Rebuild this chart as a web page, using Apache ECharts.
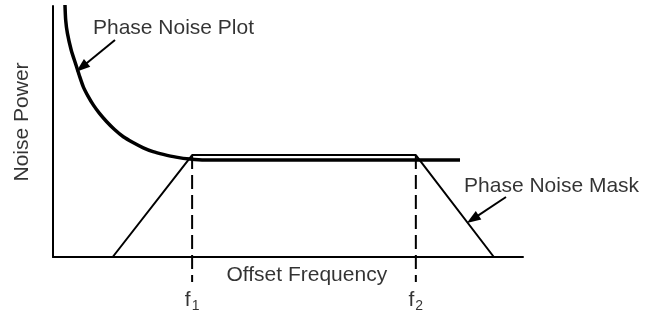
<!DOCTYPE html>
<html>
<head>
<meta charset="utf-8">
<script src="https://cdn.jsdelivr.net/npm/echarts@6/dist/echarts.min.js"></script>
<style>
html,body{margin:0;padding:0;background:#fff;}
#chart{width:656px;height:320px;}
</style>
</head>
<body>
<div id="chart"></div>
<script>
// ---- data (arbitrary units: offset frequency 0..100, noise power 0..100) ----
const plotFreq  = [2.55, 2.70, 3.06, 3.87, 4.89, 5.57, 6.45, 7.45, 8.57, 9.89, 11.43, 13.09, 14.96, 17.02, 19.21, 21.28, 23.47, 26.17, 29.15, 32.34, 86.6];
const plotPower = [100.4, 94.4, 89.2, 82.5, 76.5, 72.5, 67.8, 64.1, 60.6, 57.2, 53.9, 50.8, 47.9, 45.6, 43.5, 42.0, 40.9, 39.8, 39.0, 38.6, 38.6];
const maskFreq  = [12.7, 29.6, 77.2, 93.8];
const maskPower = [0, 40.6, 40.6, 0];
const markerFreq = [29.6, 77.2];
const markerLabels = ['1', '2'];
const axisTitles = ['Offset Frequency', 'Noise Power'];
const seriesTitles = ['Phase Noise Plot', 'Phase Noise Mask'];

const FONT = "'Liberation Sans', Arial, Helvetica, sans-serif";
const zip = (a, b) => a.map((v, i) => [v, b[i]]);

const chart = echarts.init(document.getElementById('chart'), null, {renderer: 'canvas'});

const textBase = {show: true, color: '#000', fontFamily: FONT, fontSize: 21};

function textPoint(x, y, text, extra) {
  return {value: [x, y], label: Object.assign({}, textBase, {formatter: text}, extra)};
}

const arrowStyle = {color: '#000', width: 2, type: 'solid'};

chart.setOption({
  animation: false,
  backgroundColor: '#fff',
  grid: {left: 53, right: 133, top: 6, bottom: 63, containLabel: false},
  xAxis: {
    type: 'value', min: 0, max: 100,
    axisLine: {show: true, onZero: true, lineStyle: {color: '#000', width: 2}},
    axisTick: {show: false}, axisLabel: {show: false}, splitLine: {show: false}
  },
  yAxis: {
    type: 'value', min: 0, max: 100,
    axisLine: {show: true, lineStyle: {color: '#000', width: 2}},
    axisTick: {show: false}, axisLabel: {show: false}, splitLine: {show: false}
  },
  series: [
    {
      name: seriesTitles[0], type: 'line', data: zip(plotFreq, plotPower),
      smooth: 0.25, showSymbol: false, clip: false,
      lineStyle: {color: '#000', width: 3.5}
    },
    {
      name: seriesTitles[1], type: 'line', data: zip(maskFreq, maskPower),
      showSymbol: false, clip: false,
      lineStyle: {color: '#000', width: 2},
      markLine: {
        silent: true, symbol: ['none', 'triangle'], symbolSize: [10, 14],
        label: {show: false}, lineStyle: arrowStyle,
        data: [
          [{coord: [13.19, 86.45]}, {coord: [6.1, 75.6]}],
          [{coord: [96.38, 23.9]}, {coord: [89.3, 15.1]}]
        ]
      }
    },
    ...markerFreq.map(f => ({
      type: 'line', data: [[f, maskPower[1]], [f, -10]], showSymbol: false, clip: false,
      lineStyle: {color: '#000', width: 2, type: [14, 6]}
    })),
    {
      type: 'scatter', symbolSize: 0, clip: false, silent: true,
      data: [
        textPoint(8.5, 91.2, seriesTitles[0], {position: 'right', distance: 0}),
        textPoint(87.45, 28.3, seriesTitles[1], {position: 'right', distance: 0}),
        textPoint(54.0, -7.2, axisTitles[0], {position: 'inside'}),
        textPoint(-6.6, 53.8, axisTitles[1], {position: 'inside', rotate: 90}),
        ...markerFreq.map((f, i) => ({
          value: [f, -17.1],
          label: {
            show: true, position: 'inside', formatter: '{f|f}{s|' + markerLabels[i] + '}',
            rich: {
              f: {fontFamily: FONT, fontSize: 21, lineHeight: 26, color: '#000'},
              s: {fontFamily: FONT, fontSize: 14, lineHeight: 12, verticalAlign: 'bottom', color: '#000', padding: [0, 0, 0, 1]}
            }
          }
        }))
      ]
    }
  ]
});
</script>
</body>
</html>
